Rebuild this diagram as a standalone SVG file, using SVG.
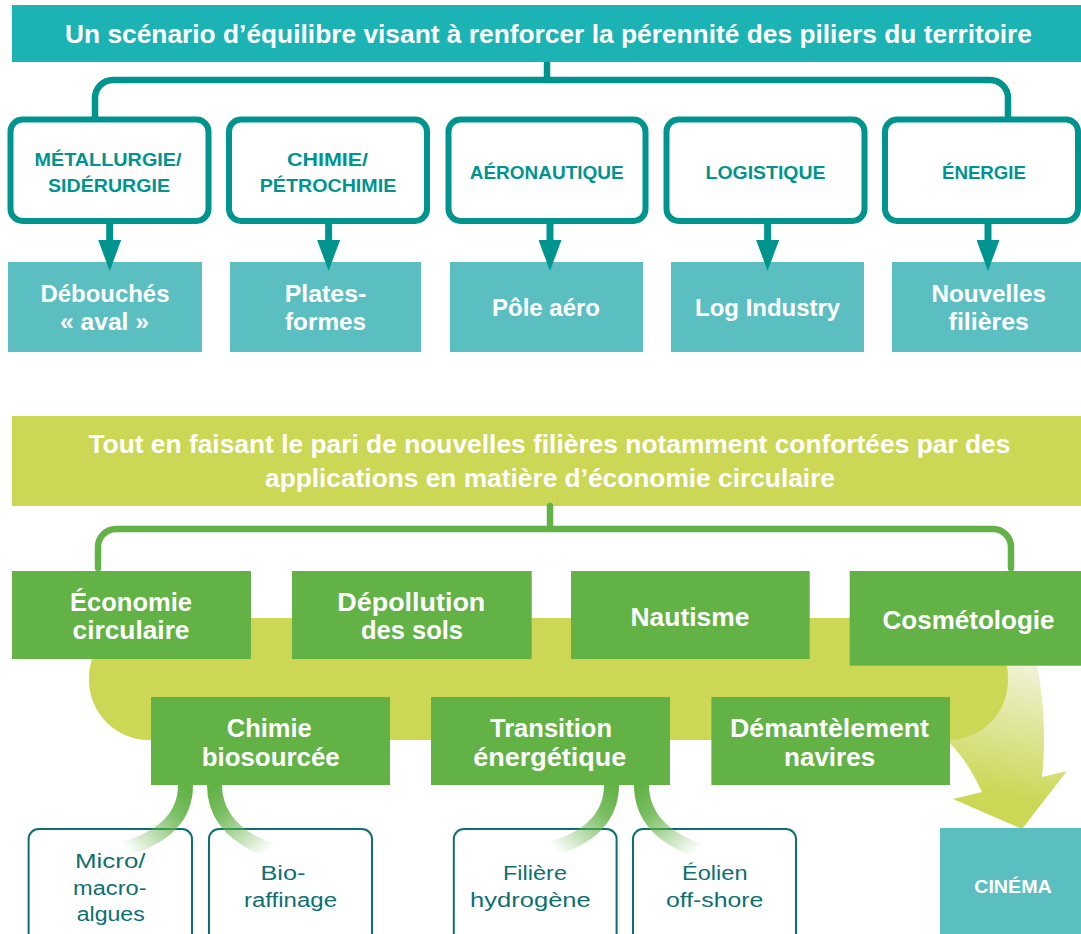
<svg xmlns="http://www.w3.org/2000/svg" width="1081" height="934" viewBox="0 0 1081 934">
<style>
text { font-family: "Liberation Sans", Arial, sans-serif; text-anchor: middle; }
.title { font-weight: 700; font-size: 26px; fill: #ffffff; }
.hd { font-weight: 700; font-size: 19px; fill: #00948f; }
.wt { font-weight: 700; font-size: 24px; fill: #ffffff; }
.gt { font-weight: 700; font-size: 25px; fill: #ffffff; }
.st { font-weight: 400; font-size: 20px; fill: #0e6f70; }
.cin { font-weight: 700; font-size: 18px; fill: #ffffff; }
.pillar { fill: #ffffff; stroke: #00948f; stroke-width: 6; }
.tealbox { fill: #5bbfc2; }
.greenbox { fill: #62b246; }
.subbox { fill: #ffffff; stroke: #0e6f70; stroke-width: 2; }
.tline { fill: none; stroke: #00948f; stroke-width: 6.5; }
.gline { fill: none; stroke: #62b246; stroke-width: 6.5; stroke-linecap: round; }
.band { fill: none; stroke-width: 15; }
</style>
<defs>
<marker id="ah" markerUnits="userSpaceOnUse" markerWidth="31" markerHeight="23" refX="0" refY="11.5" orient="auto" viewBox="0 0 31 23">
<path d="M0,0 L31,11.5 L0,23 Z" fill="#00948f"/>
</marker>
<linearGradient id="arrowGrad" gradientUnits="userSpaceOnUse" x1="1030" y1="665" x2="1000" y2="795">
<stop offset="0" stop-color="#f0f2d6"/>
<stop offset="1" stop-color="#cbd755"/>
</linearGradient>
<linearGradient id="gb1" gradientUnits="userSpaceOnUse" x1="186" y1="786" x2="125" y2="848">
<stop offset="0" stop-color="#62b246" stop-opacity="1"/>
<stop offset="0.3" stop-color="#62b246" stop-opacity="0.85"/>
<stop offset="1" stop-color="#62b246" stop-opacity="0"/>
</linearGradient>
<linearGradient id="gb2" gradientUnits="userSpaceOnUse" x1="214" y1="786" x2="270" y2="850">
<stop offset="0" stop-color="#62b246" stop-opacity="1"/>
<stop offset="0.3" stop-color="#62b246" stop-opacity="0.85"/>
<stop offset="1" stop-color="#62b246" stop-opacity="0"/>
</linearGradient>
<linearGradient id="gb3" gradientUnits="userSpaceOnUse" x1="612" y1="786" x2="553" y2="848">
<stop offset="0" stop-color="#62b246" stop-opacity="1"/>
<stop offset="0.3" stop-color="#62b246" stop-opacity="0.85"/>
<stop offset="1" stop-color="#62b246" stop-opacity="0"/>
</linearGradient>
<linearGradient id="gb4" gradientUnits="userSpaceOnUse" x1="641" y1="786" x2="698" y2="850">
<stop offset="0" stop-color="#62b246" stop-opacity="1"/>
<stop offset="0.3" stop-color="#62b246" stop-opacity="0.85"/>
<stop offset="1" stop-color="#62b246" stop-opacity="0"/>
</linearGradient>
</defs>

<!-- background flow shape and curved arrow -->
<g id="flow-background">
<path d="M 985 665 L 1037 665 C 1044 700 1046 740 1042 777 L 1067 771 L 1022 829 L 953 799 L 982 792 C 972 770 958 748 940 735 Z" fill="url(#arrowGrad)"/>
<rect x="89" y="618" width="919" height="122" rx="60" ry="60" fill="#cbd755"/>
</g>

<!-- top section -->
<g id="title-top">
<rect x="12" y="5" width="1069" height="57" fill="#1bb3b3"/>
<text class="title" x="548.5" y="43" textLength="967" lengthAdjust="spacingAndGlyphs">Un scénario d’équilibre visant à renforcer la pérennité des piliers du territoire</text>
</g>

<g id="pillar-metallurgie">
<rect class="pillar" x="10.5" y="119.5" width="198" height="101.5" rx="12"/>
<text class="hd" x="108" y="166" textLength="147" lengthAdjust="spacingAndGlyphs">MÉTALLURGIE/</text>
<text class="hd" x="109" y="192" textLength="122" lengthAdjust="spacingAndGlyphs">SIDÉRURGIE</text>
</g>
<g id="pillar-chimie">
<rect class="pillar" x="229" y="119.5" width="198" height="101.5" rx="12"/>
<text class="hd" x="327.5" y="166" textLength="81" lengthAdjust="spacingAndGlyphs">CHIMIE/</text>
<text class="hd" x="328" y="192" textLength="136.5" lengthAdjust="spacingAndGlyphs">PÉTROCHIMIE</text>
</g>
<g id="pillar-aeronautique">
<rect class="pillar" x="448.5" y="119.5" width="197" height="101.5" rx="12"/>
<text class="hd" x="546.7" y="179" textLength="154" lengthAdjust="spacingAndGlyphs">AÉRONAUTIQUE</text>
</g>
<g id="pillar-logistique">
<rect class="pillar" x="666.5" y="119.5" width="198" height="101.5" rx="12"/>
<text class="hd" x="765.5" y="179" textLength="120" lengthAdjust="spacingAndGlyphs">LOGISTIQUE</text>
</g>
<g id="pillar-energie">
<rect class="pillar" x="885" y="119.5" width="193" height="101.5" rx="12"/>
<text class="hd" x="984" y="179" textLength="84" lengthAdjust="spacingAndGlyphs">ÉNERGIE</text>
</g>

<g id="out-debouches">
<rect class="tealbox" x="8" y="262" width="194" height="90"/>
<text class="wt" x="105" y="302" textLength="129" lengthAdjust="spacingAndGlyphs">Débouchés</text>
<text class="wt" x="104.5" y="330" textLength="89" lengthAdjust="spacingAndGlyphs">« aval »</text>
</g>
<g id="out-plateformes">
<rect class="tealbox" x="230" y="262" width="191" height="90"/>
<text class="wt" x="325.5" y="302" textLength="81.7" lengthAdjust="spacingAndGlyphs">Plates-</text>
<text class="wt" x="325.5" y="330" textLength="81" lengthAdjust="spacingAndGlyphs">formes</text>
</g>
<g id="out-poleaero">
<rect class="tealbox" x="450" y="262" width="193" height="90"/>
<text class="wt" x="546" y="316" textLength="108" lengthAdjust="spacingAndGlyphs">Pôle aéro</text>
</g>
<g id="out-logindustry">
<rect class="tealbox" x="671" y="262" width="193" height="90"/>
<text class="wt" x="767.6" y="316" textLength="145" lengthAdjust="spacingAndGlyphs">Log Industry</text>
</g>
<g id="out-nouvelles">
<rect class="tealbox" x="892" y="262" width="189" height="90"/>
<text class="wt" x="988.7" y="302" textLength="114.6" lengthAdjust="spacingAndGlyphs">Nouvelles</text>
<text class="wt" x="988.8" y="330" textLength="80.4" lengthAdjust="spacingAndGlyphs">filières</text>
</g>

<!-- lower section -->
<g id="title-bottom">
<rect x="12" y="416" width="1069" height="90" fill="#cbd755"/>
<text class="title" x="549.4" y="453" textLength="922" lengthAdjust="spacingAndGlyphs">Tout en faisant le pari de nouvelles filières notamment confortées par des</text>
<text class="title" x="550" y="487" textLength="570" lengthAdjust="spacingAndGlyphs">applications en matière d’économie circulaire</text>
</g>

<g id="eco-circulaire">
<rect class="greenbox" x="12" y="571" width="239" height="88"/>
<text class="gt" x="131" y="611" textLength="122" lengthAdjust="spacingAndGlyphs">Économie</text>
<text class="gt" x="131" y="639.3" textLength="117" lengthAdjust="spacingAndGlyphs">circulaire</text>
</g>
<g id="depollution">
<rect class="greenbox" x="292" y="571" width="239.7" height="88"/>
<text class="gt" x="411.3" y="611" textLength="148" lengthAdjust="spacingAndGlyphs">Dépollution</text>
<text class="gt" x="412" y="639.3" textLength="102" lengthAdjust="spacingAndGlyphs">des sols</text>
</g>
<g id="nautisme">
<rect class="greenbox" x="571" y="571" width="238.7" height="88"/>
<text class="gt" x="690" y="626" textLength="119" lengthAdjust="spacingAndGlyphs">Nautisme</text>
</g>
<g id="cosmetologie">
<rect class="greenbox" x="849.7" y="571" width="231.3" height="94.7"/>
<text class="gt" x="968.5" y="629.3" textLength="172" lengthAdjust="spacingAndGlyphs">Cosmétologie</text>
</g>
<g id="chimie-biosourcee">
<rect class="greenbox" x="151" y="697" width="239" height="88"/>
<text class="gt" x="269.3" y="736.7" textLength="85" lengthAdjust="spacingAndGlyphs">Chimie</text>
<text class="gt" x="270.7" y="766" textLength="138" lengthAdjust="spacingAndGlyphs">biosourcée</text>
</g>
<g id="transition-energetique">
<rect class="greenbox" x="431" y="697" width="239" height="88"/>
<text class="gt" x="551" y="736.7" textLength="122" lengthAdjust="spacingAndGlyphs">Transition</text>
<text class="gt" x="549.7" y="766" textLength="153" lengthAdjust="spacingAndGlyphs">énergétique</text>
</g>
<g id="demantelement">
<rect class="greenbox" x="711.4" y="697" width="238.6" height="88"/>
<text class="gt" x="829.5" y="736.7" textLength="199" lengthAdjust="spacingAndGlyphs">Démantèlement</text>
<text class="gt" x="829.6" y="766" textLength="91" lengthAdjust="spacingAndGlyphs">navires</text>
</g>

<g id="micro-macro-algues">
<rect class="subbox" x="28.6" y="829" width="163.4" height="120" rx="10"/>
<text class="st" x="110.3" y="868" textLength="70.5" lengthAdjust="spacingAndGlyphs">Micro/</text>
<text class="st" x="109.8" y="895" textLength="73.5" lengthAdjust="spacingAndGlyphs">macro-</text>
<text class="st" x="110.7" y="920.7" textLength="68" lengthAdjust="spacingAndGlyphs">algues</text>
</g>
<g id="bioraffinage">
<rect class="subbox" x="209" y="829" width="163" height="120" rx="10"/>
<text class="st" x="283" y="880" textLength="45" lengthAdjust="spacingAndGlyphs">Bio-</text>
<text class="st" x="290.5" y="906.7" textLength="93" lengthAdjust="spacingAndGlyphs">raffinage</text>
</g>
<g id="filiere-hydrogene">
<rect class="subbox" x="453.8" y="829" width="162.8" height="120" rx="10"/>
<text class="st" x="535" y="880" textLength="64" lengthAdjust="spacingAndGlyphs">Filière</text>
<text class="st" x="530.4" y="907" textLength="120.7" lengthAdjust="spacingAndGlyphs">hydrogène</text>
</g>
<g id="eolien-offshore">
<rect class="subbox" x="633" y="829" width="163" height="120" rx="10"/>
<text class="st" x="714.8" y="880" textLength="65.6" lengthAdjust="spacingAndGlyphs">Éolien</text>
<text class="st" x="714.7" y="906.7" textLength="97.4" lengthAdjust="spacingAndGlyphs">off-shore</text>
</g>
<g id="cinema">
<rect class="tealbox" x="940" y="828" width="141" height="106"/>
<text class="cin" x="1013" y="892.7" textLength="77.6" lengthAdjust="spacingAndGlyphs">CINÉMA</text>
</g>

<!-- connectors -->
<g id="connectors">
<path class="tline" d="M 547 62 V 80"/>
<path class="tline" d="M 95 118 V 98 A 18 18 0 0 1 113 80 H 990 A 18 18 0 0 1 1008 98 V 118"/>
<g stroke="#00948f" stroke-width="7" marker-end="url(#ah)">
<line x1="109.7" y1="224" x2="109.7" y2="240"/>
<line x1="328.6" y1="224" x2="328.6" y2="240"/>
<line x1="550" y1="224" x2="550" y2="240"/>
<line x1="767.6" y1="224" x2="767.6" y2="240"/>
<line x1="988" y1="224" x2="988" y2="240"/>
</g>
<path class="gline" d="M 550 506 V 529"/>
<path class="gline" d="M 98 568 V 547 A 18 18 0 0 1 116 529 H 993 A 18 18 0 0 1 1011 547 V 568"/>
<path class="band" stroke="url(#gb1)" d="M 185.5 785 C 185.5 815 166 838 120 850"/>
<path class="band" stroke="url(#gb2)" d="M 214.5 785 C 214.5 815 234 838 274 852"/>
<path class="band" stroke="url(#gb3)" d="M 611.5 785 C 611.5 815 592 838 548 850"/>
<path class="band" stroke="url(#gb4)" d="M 641.5 785 C 641.5 815 661 838 702 852"/>
</g>
</svg>
